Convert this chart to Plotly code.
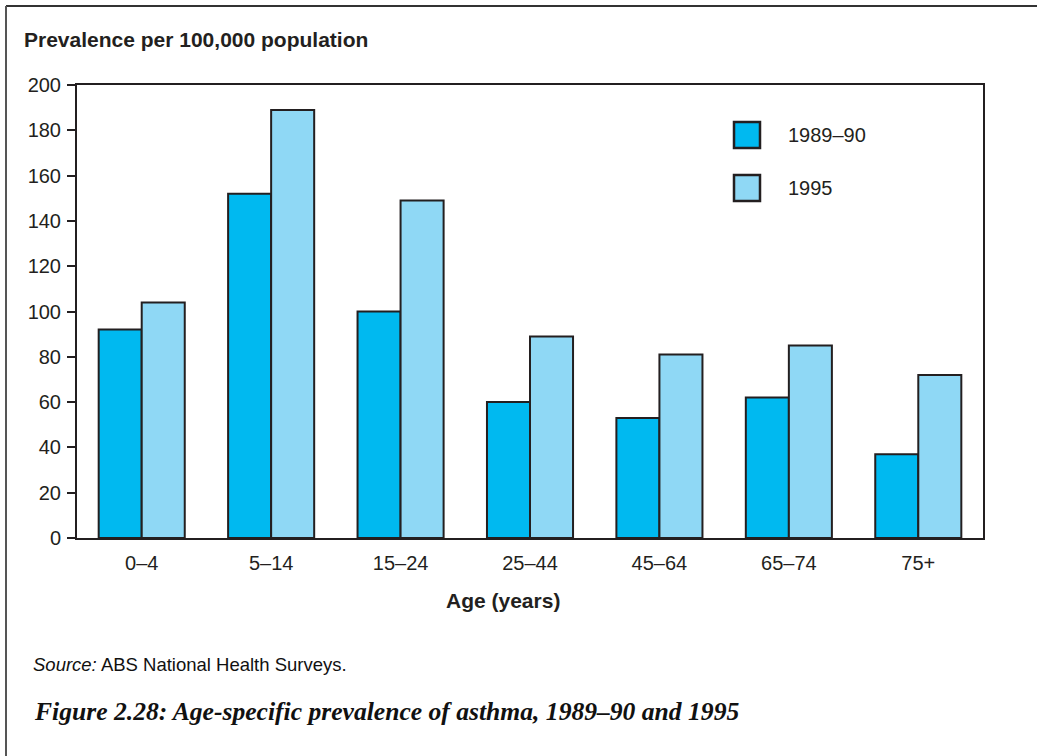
import plotly.graph_objects as go

categories = ["0–4", "5–14", "15–24", "25–44", "45–64", "65–74", "75+"]
series_names = ["1989–90", "1995"]
values_1989 = [92, 152, 100, 60, 53, 62, 37]
values_1995 = [104, 189, 149, 89, 81, 85, 72]
colors = ["#00b9f0", "#8fd8f5"]
y_ticks = [0, 20, 40, 60, 80, 100, 120, 140, 160, 180, 200]

W, H = 1037, 756
L, R, T, B = 77, 54, 85, 218
pw, ph = W - L - R, H - T - B

def px(x):
    return (x - L) / pw

def py(y):
    return (H - B - y) / ph

dark = "#231f20"
font = "Liberation Sans, Arial, sans-serif"

fig = go.Figure()
for name, vals, col in zip(series_names, [values_1989, values_1995], colors):
    fig.add_trace(go.Bar(
        x=categories, y=vals, name=name,
        marker=dict(color=col, line=dict(color=dark, width=2)),
        showlegend=False,
    ))

fig.update_layout(
    width=W, height=H,
    margin=dict(l=L, r=R, t=T, b=B),
    paper_bgcolor="white", plot_bgcolor="white",
    barmode="group", bargap=0.335, bargroupgap=0,
    font=dict(family=font, size=20, color=dark),
)
fig.update_yaxes(
    range=[0, 200], tickvals=y_ticks, ticks="outside", ticklen=8, tickwidth=1.5,
    tickcolor=dark, showline=True, linecolor=dark, linewidth=2, mirror=True,
    showgrid=False, zeroline=False, tickfont=dict(size=20, color=dark),
    ticklabelstandoff=2,
)
fig.update_xaxes(
    showline=True, linecolor=dark, linewidth=2, mirror=True, ticks="",
    showgrid=False, tickfont=dict(size=20, color=dark), ticklabelstandoff=6,
)

shapes = []
# outer frame: top and left only
shapes.append(dict(type="line", xref="paper", yref="paper", x0=px(6), x1=px(1037), y0=py(6), y1=py(6),
                   line=dict(color="#333333", width=2)))
shapes.append(dict(type="line", xref="paper", yref="paper", x0=px(6), x1=px(6), y0=py(6), y1=py(756),
                   line=dict(color="#555555", width=2)))
# legend boxes
legend_y = [135, 188]
for name, col, ly in zip(series_names, colors, legend_y):
    shapes.append(dict(type="rect", xref="paper", yref="paper",
                       x0=px(734), x1=px(760), y0=py(ly - 13), y1=py(ly + 13),
                       fillcolor=col, line=dict(color=dark, width=2.5)))
fig.update_layout(shapes=shapes)

annotations = []
for name, ly in zip(series_names, legend_y):
    annotations.append(dict(text=name, xref="paper", yref="paper", x=px(786), y=py(ly),
                            xanchor="left", yanchor="middle", showarrow=False,
                            font=dict(size=20, color=dark, family=font)))
annotations.append(dict(text="<b>Prevalence per 100,000 population</b>", xref="paper", yref="paper",
                        x=px(22), y=py(40), xanchor="left", yanchor="middle", showarrow=False,
                        font=dict(size=21, color=dark, family=font)))
annotations.append(dict(text="<b>Age (years)</b>", xref="paper", yref="paper",
                        x=px(503), y=py(600), xanchor="center", yanchor="middle", showarrow=False,
                        font=dict(size=21, color=dark, family=font)))
annotations.append(dict(text="<i>Source:</i> ABS National Health Surveys.", xref="paper", yref="paper",
                        x=px(31), y=py(664), xanchor="left", yanchor="middle", showarrow=False,
                        font=dict(size=18.5, color="#111111", family=font)))
annotations.append(dict(text="<b><i>Figure 2.28: Age-specific prevalence of asthma, 1989–90 and 1995</i></b>",
                        xref="paper", yref="paper",
                        x=px(32), y=py(711), xanchor="left", yanchor="middle", showarrow=False,
                        font=dict(size=25.6, color="#111111", family="Liberation Serif, Times New Roman, serif")))
fig.update_layout(annotations=annotations)

fig.write_html("out.html")
